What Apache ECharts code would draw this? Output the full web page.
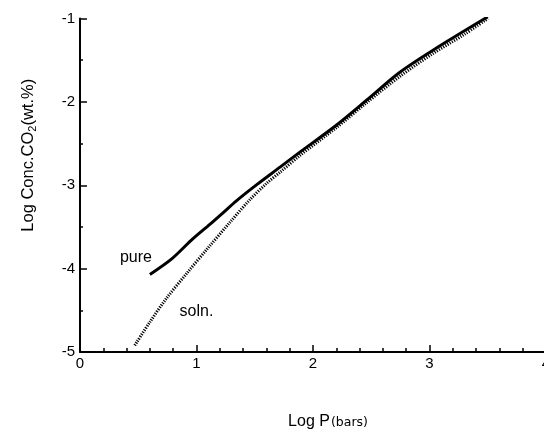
<!DOCTYPE html>
<html>
<head>
<meta charset="utf-8">
<script src="https://cdn.jsdelivr.net/npm/echarts@6/dist/echarts.min.js"></script>
<style>
  html, body { margin: 0; padding: 0; background: #fff; }
  #chart { width: 544px; height: 431px; }
</style>
</head>
<body>
<div id="chart"></div>
<script>
// Log pressure (bars) vs log CO2 concentration (wt.%)
const pureLogP = [0.60, 0.79, 0.97, 1.13, 1.22, 1.34, 1.52, 1.72, 1.89, 2.20, 2.46, 2.74, 3.03, 3.50];
const pureLogC = [-4.07, -3.88, -3.64, -3.45, -3.34, -3.19, -2.99, -2.78, -2.60, -2.28, -1.98, -1.65, -1.38, -0.98];

const solnLogP = [0.47, 0.60, 0.74, 0.92, 1.10, 1.29, 1.46, 1.60, 1.72, 1.89, 2.20, 2.46, 2.75, 3.03, 3.30, 3.50];
const solnLogC = [-4.92, -4.64, -4.36, -4.05, -3.75, -3.44, -3.17, -2.98, -2.84, -2.64, -2.31, -2.01, -1.69, -1.42, -1.19, -1.00];

const xTicks = [0, 1, 2, 3, 4];
const yTicks = [-5, -4, -3, -2, -1];

// curve annotations, in data coordinates
const pureLabelAt = [0.48, -3.87];
const solnLabelAt = [1.0, -4.51];

const pairs = (xs, ys) => xs.map((x, i) => [x, ys[i]]);

const font = 'Liberation Sans, Arial, sans-serif';

const chart = echarts.init(document.getElementById('chart'), null, { renderer: 'canvas' });

chart.setOption({
  backgroundColor: '#fff',
  animation: false,
  grid: { left: 80, top: 18.5, width: 466, height: 333.5, containLabel: false, outerBoundsMode: 'none' },
  xAxis: {
    type: 'value',
    min: xTicks[0],
    max: xTicks[xTicks.length - 1],
    interval: 1,
    name: 'Log P{s|(bars)}',
    nameLocation: 'middle',
    nameGap: 62,
    nameTextStyle: {
      color: '#000', fontFamily: font, fontSize: 16,
      padding: [0, 0, 0, 30],
      rich: { s: { fontFamily: 'DejaVu Sans, sans-serif', fontSize: 12.5, color: '#000', padding: [2, 0, 0, 1] } }
    },
    axisLine: { show: true, lineStyle: { color: '#000', width: 2 } },
    axisTick: { show: true, inside: true, length: 7, lineStyle: { color: '#000', width: 1.5 } },
    minorTick: { show: true, splitNumber: 5, length: 4, lineStyle: { color: '#000', width: 1.5 } },
    splitLine: { show: false },
    axisLabel: { color: '#000', fontFamily: font, fontSize: 15, margin: 4 }
  },
  yAxis: {
    type: 'value',
    min: yTicks[0],
    max: yTicks[yTicks.length - 1],
    interval: 1,
    name: 'Log Conc.CO{sub|2}(wt.%)',
    nameLocation: 'middle',
    nameRotate: 90,
    nameGap: 42,
    nameTextStyle: {
      color: '#000', fontFamily: font, fontSize: 16.5,
      padding: [0, 0, 0, 60],
      rich: { sub: { fontFamily: font, fontSize: 11, color: '#000', padding: [9, 0, 0, 0] } }
    },
    axisLine: { show: true, lineStyle: { color: '#000', width: 2 } },
    axisTick: { show: true, inside: true, length: 7, lineStyle: { color: '#000', width: 1.5 } },
    minorTick: { show: true, splitNumber: 2, length: 3, lineStyle: { color: '#000', width: 1.5 } },
    splitLine: { show: false },
    axisLabel: { color: '#000', fontFamily: font, fontSize: 15, margin: 5 }
  },
  series: [
    {
      name: 'soln.',
      type: 'line',
      data: pairs(solnLogP, solnLogC),
      smooth: 0.3,
      symbol: 'none',
      lineStyle: { color: '#000', width: 3, type: [1.2, 1.3] },
      markPoint: {
        symbol: 'circle', symbolSize: 0,
        label: { show: true, formatter: 'soln.', color: '#000', fontFamily: font, fontSize: 16 },
        data: [{ coord: solnLabelAt }]
      }
    },
    {
      name: 'pure',
      type: 'line',
      data: pairs(pureLogP, pureLogC),
      smooth: 0.3,
      symbol: 'none',
      lineStyle: { color: '#000', width: 3 },
      markPoint: {
        symbol: 'circle', symbolSize: 0,
        label: { show: true, formatter: 'pure', color: '#000', fontFamily: font, fontSize: 16 },
        data: [{ coord: pureLabelAt }]
      }
    }
  ]
});
</script>
</body>
</html>
